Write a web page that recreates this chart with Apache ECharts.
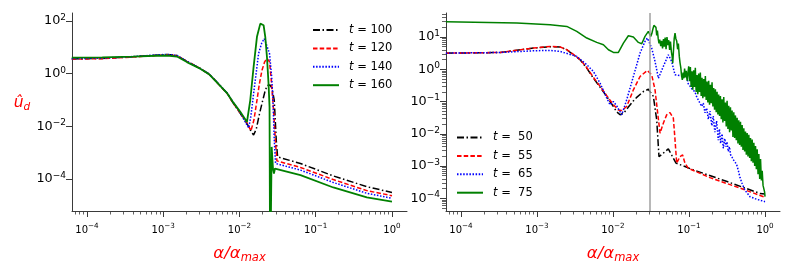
<!DOCTYPE html>
<html><head><meta charset="utf-8">
<script src="https://cdn.jsdelivr.net/npm/echarts@6/dist/echarts.min.js"></script>
<style>html,body{margin:0;padding:0;background:#fff}#c{width:793px;height:273px}</style>
</head><body><div id="c"></div>
<script>
// ---------- data (log10 of alpha/alpha_max and log10 of u_d) ----------
// Left panel
const L100_lx = [-4.2,-3.8,-3.4,-3.1,-2.95,-2.82,-2.69,-2.51,-2.40,-2.30,-2.16,-2.08,-1.99,-1.90,-1.85,-1.815,-1.78,-1.737,-1.70,-1.662,-1.635,-1.619,-1.60,-1.574,-1.544,-1.518,-1.50,-1.20,-0.77,-0.33,0];
const L100_ly = [0.56,0.58,0.64,0.70,0.73,0.69,0.47,0.19,-0.01,-0.31,-0.75,-1.13,-1.51,-1.90,-2.18,-2.33,-2.10,-1.51,-1.07,-0.63,-0.45,-0.40,-0.43,-0.55,-1.01,-2.52,-3.16,-3.41,-3.88,-4.29,-4.51];
const L120_lx = [-4.2,-3.8,-3.4,-3.1,-2.95,-2.82,-2.69,-2.51,-2.40,-2.30,-2.16,-2.08,-1.99,-1.90,-1.85,-1.81,-1.771,-1.74,-1.705,-1.67,-1.64,-1.606,-1.587,-1.553,-1.527,-1.509,-1.20,-0.77,-0.33,0];
const L120_ly = [0.55,0.57,0.63,0.69,0.72,0.68,0.47,0.19,-0.02,-0.32,-0.76,-1.13,-1.50,-1.88,-2.17,-1.75,-1.01,-0.40,0.13,0.45,0.575,0.45,-0.12,-1.39,-2.65,-3.31,-3.56,-4.02,-4.44,-4.63];
const L140_lx = [-4.2,-3.8,-3.4,-3.1,-2.95,-2.82,-2.69,-2.51,-2.40,-2.30,-2.16,-2.08,-1.99,-1.93,-1.88,-1.85,-1.815,-1.78,-1.75,-1.71,-1.675,-1.64,-1.606,-1.578,-1.561,-1.544,-1.527,-1.20,-0.77,-0.33,0];
const L140_ly = [0.57,0.59,0.65,0.71,0.73,0.69,0.47,0.19,-0.01,-0.31,-0.74,-1.10,-1.48,-1.80,-2.06,-1.60,-0.75,0.05,0.76,1.15,1.33,1.05,0.76,-0.12,-1.01,-2.52,-3.41,-3.66,-4.13,-4.54,-4.73];
const L160_lx = [-4.2,-3.8,-3.4,-3.1,-2.95,-2.82,-2.69,-2.51,-2.40,-2.30,-2.16,-2.08,-1.99,-1.902,-1.859,-1.815,-1.771,-1.727,-1.705,-1.684,-1.662,-1.64,-1.619,-1.606,-1.598,-1.585,-1.578,-1.561,-1.548,-1.535,-1.509,-1.20,-0.77,-0.33,0];
const L160_ly = [0.61,0.62,0.65,0.68,0.69,0.65,0.44,0.18,-0.02,-0.32,-0.75,-1.10,-1.45,-1.83,-1.01,0.26,1.40,1.90,1.96,1.84,1.40,0.64,-0.38,-1.26,-8,-8,-2.78,-3.60,-3.79,-3.60,-3.60,-3.85,-4.32,-4.70,-4.86];
// Right panel
const R50_lx = [-4.198,-3.484,-3.046,-2.827,-2.695,-2.608,-2.52,-2.433,-2.345,-2.258,-2.17,-2.082,-1.995,-1.951,-1.907,-1.86,-1.80,-1.732,-1.688,-1.60,-1.535,-1.469,-1.425,-1.395,-1.373,-1.338,-1.272,-1.206,-1.171,-0.94,-0.50,-0.067,0];
const R50_ly = [0.50,0.52,0.657,0.70,0.688,0.605,0.45,0.295,0.036,-0.275,-0.554,-0.844,-1.155,-1.32,-1.41,-1.36,-1.18,-0.98,-0.87,-0.69,-0.62,-0.84,-1.57,-2.71,-2.69,-2.60,-2.47,-2.76,-2.91,-3.12,-3.48,-3.85,-3.87];
const R55_lx = [-4.198,-3.484,-3.046,-2.827,-2.695,-2.608,-2.52,-2.433,-2.345,-2.258,-2.17,-2.082,-1.995,-1.929,-1.885,-1.82,-1.732,-1.644,-1.548,-1.491,-1.447,-1.412,-1.381,-1.338,-1.294,-1.25,-1.206,-1.184,-1.162,-1.119,-1.084,-1.053,-1.009,-0.724,-0.286,0];
const R55_ly = [0.50,0.52,0.66,0.71,0.69,0.61,0.46,0.30,0.05,-0.25,-0.53,-0.82,-1.10,-1.26,-1.28,-1.155,-0.637,-0.223,-0.037,-0.171,-0.637,-1.362,-1.983,-1.672,-1.413,-1.341,-1.517,-2.19,-2.914,-2.707,-2.656,-2.914,-3.07,-3.36,-3.72,-3.97];
const R65_lx = [-4.198,-3.484,-3.046,-2.827,-2.695,-2.477,-2.345,-2.258,-2.17,-2.082,-2.038,-1.995,-1.951,-1.885,-1.82,-1.732,-1.644,-1.579,-1.548,-1.491,-1.447,-1.403,-1.338,-1.272,-1.228,-1.184,-1.162,-1.097,-1.031,-1.01,-0.987,-0.965,-0.944,-0.922,-0.9,-0.878,-0.856,-0.834,-0.812,-0.79,-0.768,-0.746,-0.724,-0.70,-0.681,-0.66,-0.637,-0.615,-0.60,-0.584,-0.565,-0.549,-0.53,-0.514,-0.50,-0.483,-0.468,-0.453,-0.435,-0.418,-0.396,-0.374,-0.35,-0.33,-0.30,-0.264,-0.198,-0.111,0];
const R65_ly = [0.50,0.52,0.574,0.585,0.553,0.398,0.14,-0.068,-0.43,-0.896,-1.103,-1.0,-1.134,-1.413,-0.948,-0.223,0.502,0.864,0.968,0.657,0.243,-0.275,0.088,0.45,0.243,-0.171,-0.202,-0.202,-0.223,-0.45,-0.52,-0.60,-0.62,-0.70,-0.85,-0.95,-0.92,-1.15,-1.05,-1.35,-1.20,-1.55,-1.30,-1.75,-1.45,-1.95,-1.60,-2.20,-1.85,-2.30,-2.00,-2.45,-2.15,-2.40,-2.25,-2.55,-2.40,-2.65,-2.72,-2.80,-2.80,-2.95,-3.15,-3.35,-3.55,-3.75,-3.95,-4.03,-4.105];
const R75_lx = [-4.198,-3.265,-2.827,-2.608,-2.477,-2.345,-2.214,-2.126,-2.06,-1.995,-1.929,-1.863,-1.798,-1.732,-1.666,-1.622,-1.579,-1.535,
  -1.504,-1.49,-1.475,-1.462,-1.447,-1.435,-1.425,-1.416,-1.405,-1.395,-1.385,-1.372,-1.36,-1.348,-1.336,-1.325,-1.314,-1.302,-1.29,-1.278,-1.266,-1.255,-1.244,-1.232,-1.222,-1.214,-1.205,-1.195,-1.184,-1.173,-1.162,-1.15,-1.14,-1.128,-1.118,-1.108,-1.098,-1.088,-1.078,-1.068,-1.058,-1.047,-1.036,-1.025,-1.014,-1.004,
  -0.993,-0.982,-0.972,-0.961,-0.95,-0.939,-0.928,-0.917,-0.906,-0.895,-0.884,-0.873,-0.862,-0.851,-0.84,-0.829,-0.818,-0.807,-0.796,-0.785,-0.774,-0.763,-0.752,-0.741,-0.73,-0.719,-0.708,-0.697,-0.686,-0.675,-0.664,-0.653,-0.642,-0.631,-0.62,-0.609,-0.598,-0.587,-0.576,-0.565,-0.554,-0.543,-0.532,-0.521,-0.51,-0.499,-0.488,-0.477,-0.466,-0.455,-0.444,-0.433,-0.422,-0.411,-0.4,
  -0.389,-0.378,-0.367,-0.356,-0.345,-0.334,-0.323,-0.312,-0.301,-0.29,-0.279,-0.268,-0.257,-0.246,-0.235,-0.224,-0.213,-0.202,-0.191,-0.18,-0.169,-0.158,-0.147,-0.136,-0.125,-0.114,-0.103,-0.092,-0.081,-0.07,-0.059,-0.048,-0.037,-0.026,-0.015,-0.006,0];
const R75_ly = [1.475,1.433,1.382,1.33,1.175,0.968,0.833,0.76,0.605,0.522,0.522,0.812,1.04,0.999,0.833,0.792,1.02,1.175,
  1.02,1.10,1.25,1.36,1.41,1.30,1.05,1.20,0.95,0.80,0.92,0.72,0.88,0.65,0.94,0.70,0.98,0.62,1.00,0.75,0.90,0.60,0.86,0.55,0.40,0.19,0.55,0.95,1.12,0.95,0.88,0.62,0.80,0.40,0.20,0.05,-0.20,-0.33,-0.10,-0.28,0.02,-0.25,-0.05,-0.35,-0.12,0.09,
  -0.37,0.07,-0.55,-0.06,-0.63,-0.03,-0.55,0.05,-0.70,-0.18,-0.77,-0.13,-0.70,-0.10,-0.83,-0.26,-0.90,-0.30,-0.85,-0.21,-0.95,-0.38,-1.03,-0.36,-1.10,-0.48,-1.05,-0.40,-1.15,-0.58,-1.25,-0.62,-1.33,-0.70,-1.40,-0.78,-1.45,-0.83,-1.55,-0.93,-1.65,-0.86,-1.60,-1.03,-1.77,-0.98,-1.85,-1.13,-1.95,-1.18,-1.90,-1.28,-2.10,-1.33,-2.13,
  -1.43,-2.20,-1.50,-2.30,-1.58,-2.35,-1.63,-2.40,-1.73,-2.50,-1.83,-2.55,-1.93,-2.65,-1.98,-2.70,-2.03,-2.75,-2.13,-2.85,-2.18,-2.90,-2.28,-3.00,-2.38,-3.10,-2.48,-3.25,-2.63,-3.40,-2.78,-3.45,-3.15,-3.60,-3.55,-3.80,-3.95];
const GREY_LINE_X = 0.0294;
const LEFT_NAMES = ['t = 100','t = 120','t = 140','t = 160'];
const RIGHT_NAMES = ['t =  50','t =  55','t =  65','t =  75'];
const X_MAJOR = [1e-4,1e-3,1e-2,1e-1,1];
const YL_MAJOR = [1e-4,1e-2,1,1e2];
const YR_MAJOR = [1e-4,1e-3,1e-2,1e-1,1,10];

// ---------- styling ----------
const FONT = "'DejaVu Sans', sans-serif";
const AX = '#3a3a3a';
const X_MIN = Math.pow(10,-4.197), X_MAX = Math.pow(10,0.197);
const YL_MIN = Math.pow(10,-5.213), YL_MAX = Math.pow(10,2.303);
const YR_MIN = Math.pow(10,-4.394), YR_MAX = Math.pow(10,1.745);
function minorVals(lo, hi){ const o=[]; for(let e=lo;e<=hi;e++) for(let m=2;m<=9;m++) o.push(+(m*Math.pow(10,e)).toPrecision(6)); return o; }
const xSupRich = {
  b:{fontFamily:FONT,fontSize:10,color:'#000',lineHeight:14},
  s:{fontFamily:FONT,fontSize:7.2,color:'#000',lineHeight:8,verticalAlign:'top'}
};
const ySupRich = {
  b:{fontFamily:FONT,fontSize:12.8,color:'#000',lineHeight:16},
  s:{fontFamily:FONT,fontSize:9,color:'#000',lineHeight:9,verticalAlign:'top'}
};
function powLabel(v){ const e=Math.round(Math.log10(v)); return '{b|10}{s|'+(e<0?'\u2212'+(-e):e)+'}'; }
const xNameRich = {
  a:{fontFamily:FONT,fontSize:16.5,fontStyle:'italic',color:'#ff0000',lineHeight:20},
  m:{fontFamily:FONT,fontSize:11.5,fontStyle:'italic',color:'#ff0000',lineHeight:14,verticalAlign:'bottom'}
};
function mainX(gi){
  return {type:'log',logBase:10,gridIndex:gi,min:X_MIN,max:X_MAX,position:'bottom',
    axisLine:{show:true,onZero:false,lineStyle:{color:AX,width:1}},
    axisTick:{show:true,inside:false,length:6,customValues:X_MAJOR,lineStyle:{color:AX,width:1}},
    axisLabel:{show:true,customValues:X_MAJOR,margin:12,formatter:powLabel,rich:xSupRich},
    splitLine:{show:false},minorTick:{show:false},
    name:'{a|\u03b1/\u03b1}{m|max}',nameLocation:'middle',nameGap:33,
    nameTextStyle:{rich:xNameRich,verticalAlign:'top',align:'center'}};
}
function minorX(gi){
  return {type:'log',logBase:10,gridIndex:gi,min:X_MIN,max:X_MAX,position:'bottom',
    axisLine:{show:false,onZero:false},
    axisTick:{show:true,inside:false,length:3.5,customValues:minorVals(-5,0),lineStyle:{color:AX,width:0.8}},
    axisLabel:{show:false},splitLine:{show:false}};
}
function mainY(gi,min,max,vals,extra){
  return Object.assign({type:'log',logBase:10,gridIndex:gi,min:min,max:max,position:'left',
    axisLine:{show:true,onZero:false,lineStyle:{color:AX,width:1}},
    axisTick:{show:true,inside:false,length:6,customValues:vals,lineStyle:{color:AX,width:1}},
    axisLabel:{show:true,customValues:vals,margin:6,formatter:powLabel,rich:ySupRich},
    splitLine:{show:false},minorTick:{show:false}}, extra||{});
}
const pts = (lx,ly)=>lx.map((v,i)=>[Math.pow(10,v),Math.pow(10,ly[i])]);
const DASHDOT=[7,2.5,1.5,2.5], DASH=[4.5,2.2], DOT=[1.5,1.6];
function mk(name,lx,ly,color,type,width,xi,yi,extra){
  return Object.assign({name,type:'line',xAxisIndex:xi,yAxisIndex:yi,data:pts(lx,ly),symbol:'none',showSymbol:false,
    lineStyle:{color,width,type},itemStyle:{color},silent:true,clip:true,animation:false},extra||{});
}
const legendBase = (left,top,names)=>({left,top,orient:'vertical',padding:0,itemWidth:26,itemHeight:14,itemGap:6.4,
  data:names,selectedMode:false,itemStyle:{opacity:0,borderWidth:0},
  formatter:n=>'{i|t}'+n.slice(1),
  textStyle:{fontFamily:FONT,fontSize:11.5,color:'#000',padding:[0,0,0,5],
    rich:{i:{fontFamily:FONT,fontSize:11.5,fontStyle:'italic',color:'#000'}}}});

const chart = echarts.init(document.getElementById('c'),null,{renderer:'canvas'});
chart.setOption({
  animation:false,
  backgroundColor:'#fff',
  grid:[{left:72,top:13,width:335,height:198,outerBoundsMode:'none'},{left:446,top:13,width:334,height:198,outerBoundsMode:'none'}],
  xAxis:[mainX(0),mainX(1),minorX(0),minorX(1)],
  yAxis:[
    mainY(0,YL_MIN,YL_MAX,YL_MAJOR,{name:'{u|\u00fb}{d|d}',nameLocation:'middle',nameGap:50,nameRotate:0,
      nameTextStyle:{align:'center',verticalAlign:'middle',padding:[0,0,18,0],rich:{
        u:{fontFamily:FONT,fontSize:15.5,fontStyle:'italic',color:'#ff0000',lineHeight:20},
        d:{fontFamily:FONT,fontSize:10.5,fontStyle:'italic',color:'#ff0000',lineHeight:12,verticalAlign:'bottom'}}}}),
    mainY(1,YR_MIN,YR_MAX,YR_MAJOR),
    {type:'log',logBase:10,gridIndex:1,min:YR_MIN,max:YR_MAX,position:'left',
      axisLine:{show:false,onZero:false},
      axisTick:{show:true,inside:false,length:4,customValues:minorVals(-5,1),lineStyle:{color:AX,width:0.8}},
      axisLabel:{show:false},splitLine:{show:false}}
  ],
  legend:[legendBase(312,24,LEFT_NAMES),legendBase(456,131.5,RIGHT_NAMES)],
  series:[
    mk(LEFT_NAMES[0],L100_lx,L100_ly,'#000000',DASHDOT,1.5,0,0),
    mk(LEFT_NAMES[1],L120_lx,L120_ly,'#ff0000',DASH,1.5,0,0),
    mk(LEFT_NAMES[2],L140_lx,L140_ly,'#0000ff',DOT,1.5,0,0),
    mk(LEFT_NAMES[3],L160_lx,L160_ly,'#008000','solid',1.8,0,0),
    mk(RIGHT_NAMES[0],R50_lx,R50_ly,'#000000',DASHDOT,1.5,1,1,{markLine:{silent:true,symbol:['none','none'],label:{show:false},
      lineStyle:{color:'#a0a0a0',width:1.5,type:'solid'},data:[{xAxis:GREY_LINE_X}],animation:false}}),
    mk(RIGHT_NAMES[1],R55_lx,R55_ly,'#ff0000',DASH,1.5,1,1),
    mk(RIGHT_NAMES[2],R65_lx,R65_ly,'#0000ff',DOT,1.5,1,1),
    mk(RIGHT_NAMES[3],R75_lx,R75_ly,'#008000','solid',1.5,1,1)
  ]
});
</script></body></html>
